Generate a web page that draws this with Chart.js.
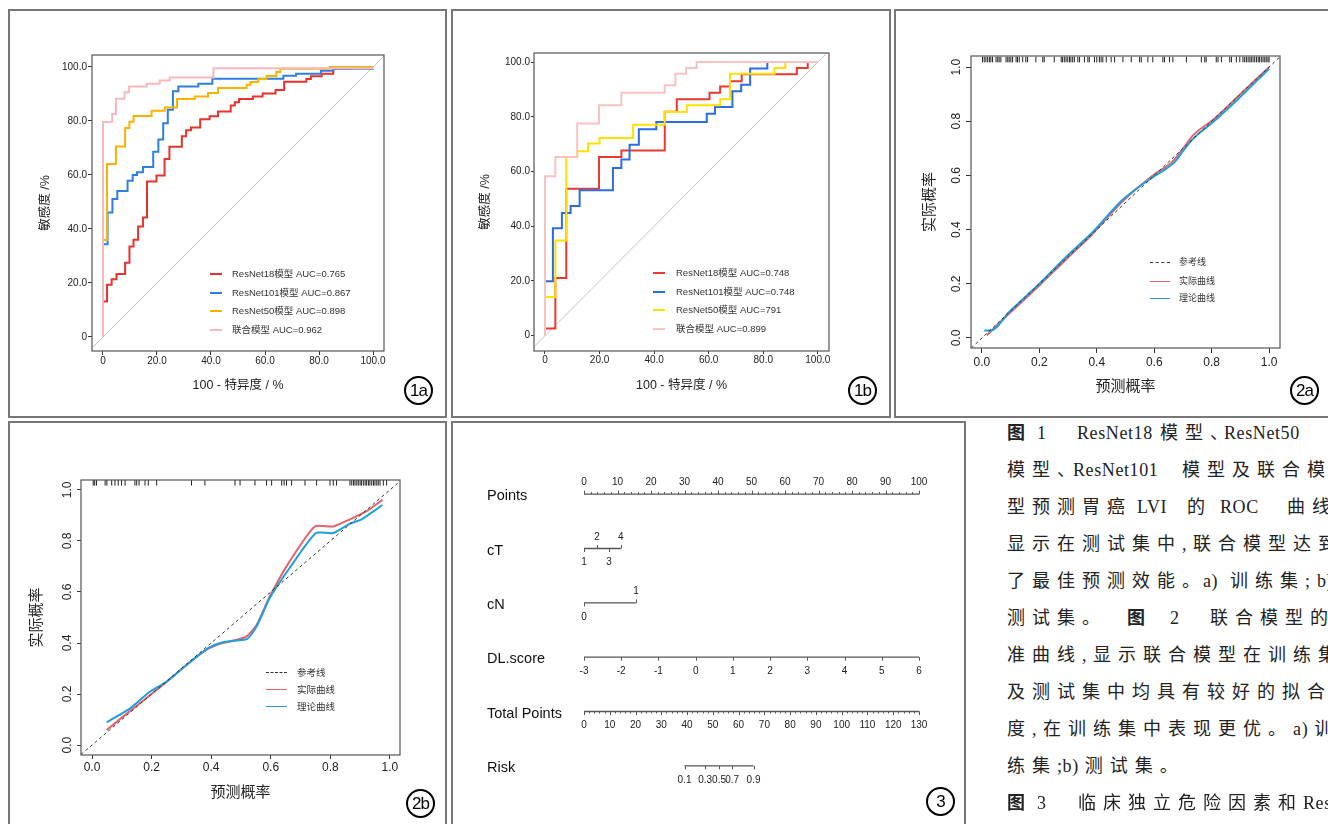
<!DOCTYPE html>
<html>
<head>
<meta charset="utf-8">
<script src="https://cdn.jsdelivr.net/npm/chart.js@4.4.1/dist/chart.umd.min.js"></script>
<style>
  body { margin: 0; width: 1328px; height: 824px; overflow: hidden; background: #fff; position: relative; }
  .panel { position: absolute; border: 2px solid #777; box-sizing: border-box; }
  canvas { position: absolute; }
  .circ { position: absolute; width: 29px; height: 29px; border: 2px solid #000; border-radius: 50%; box-sizing: border-box;
          font: 17px "Liberation Sans", sans-serif; text-align: center; line-height: 25px; letter-spacing: -1px; color: #000; }
  .lg-line { position: absolute; height: 0; }
  .lg-text { position: absolute; white-space: nowrap; color: #333; font-family: "Liberation Sans", "Noto Sans CJK SC", sans-serif; line-height: 1.2; }
  .cap { position: absolute; white-space: pre; color: #222; font-size: 18px; line-height: 24px; }
  .cap.cjk { font-family: "Liberation Serif", "Noto Sans CJK SC", serif; letter-spacing: 7px; }
  .cap.lat, .cap .asc { font-family: "Liberation Serif", serif; letter-spacing: 0.6px; }
  .cap .asc { margin-right: 6px; }
  .cap b { font-weight: 700; }
</style>
</head>
<body>
<div class="panel" style="left:8px;top:9px;width:439px;height:409px"></div>
<div class="panel" style="left:451px;top:9px;width:440px;height:409px"></div>
<div class="panel" style="left:894px;top:9px;width:460px;height:409px"></div>
<div class="panel" style="left:8px;top:421px;width:439px;height:420px"></div>
<div class="panel" style="left:451px;top:421px;width:515px;height:420px"></div>

<canvas id="roc1a" width="434" height="402" style="left:10px;top:12px"></canvas>
<canvas id="roc1b" width="435" height="402" style="left:453px;top:12px"></canvas>
<canvas id="cal2a" width="431" height="402" style="left:897px;top:12px"></canvas>
<canvas id="cal2b" width="434" height="400" style="left:10px;top:424px"></canvas>
<canvas id="nomo3" width="510" height="400" style="left:453px;top:424px"></canvas>

<div class="circ" style="left:404px;top:376px">1a</div>
<div class="circ" style="left:848px;top:376px">1b</div>
<div class="circ" style="left:1290px;top:376px">2a</div>
<div class="circ" style="left:406px;top:789px">2b</div>
<div class="circ" style="left:926px;top:787px">3</div>

<div id="legends"></div>
<div id="caption"></div>

<script>
// ---- axis ticks ----
const rocTicks = [0, 20, 40, 60, 80, 100];
const rocTickLabels = ['0', '20.0', '40.0', '60.0', '80.0', '100.0'];
const calTicks = [0, 0.2, 0.4, 0.6, 0.8, 1.0];
const calTickLabels = ['0.0', '0.2', '0.4', '0.6', '0.8', '1.0'];

// ---- 图1a 训练集 ROC (100-特异度, 敏感度) ----
const train18Fpr  = [0, 0, 1.5, 3.2, 5.0, 8.2, 9.8, 11.3, 13.0, 14.8, 16.3, 19.8, 22.8, 24.6, 29.2, 30.8, 32.6, 36.0, 39.5, 42.6, 47.3, 48.8, 50.4, 55.5, 59.1, 63.9, 67.1, 75.3, 77.0, 81.0, 85.3, 92.0, 100];
const train18Tpr  = [0, 13.1, 19.3, 21.4, 23.3, 27.5, 33.5, 36.0, 40.9, 44.2, 57.6, 59.8, 65.9, 70.4, 74.3, 76.5, 77.6, 80.6, 81.7, 83.5, 85.7, 86.9, 88.1, 89.0, 90.1, 91.4, 94.5, 95.5, 96.5, 97.5, 99.3, 100, 100];
const train101Fpr = [0, 0, 1.7, 3.5, 5.3, 9.1, 11.0, 12.6, 14.8, 18.6, 20.5, 22.3, 24.0, 25.9, 27.9, 35.3, 40.5, 66.8, 71.5, 80.7, 85.3, 100];
const train101Tpr = [0, 34.3, 46.1, 51.1, 54.0, 57.8, 60.0, 61.0, 62.9, 68.6, 73.1, 79.1, 84.1, 91.0, 92.7, 93.8, 95.6, 96.7, 97.5, 98.6, 99.3, 100];
const train50Fpr  = [0, 0, 1.5, 4.8, 8.2, 9.8, 11.3, 18.0, 22.9, 27.4, 34.0, 38.9, 42.6, 53.2, 54.6, 57.5, 60.6, 64.2, 65.7, 84.0, 100];
const train50Tpr  = [0, 35.9, 64.0, 70.5, 77.4, 79.7, 81.8, 83.8, 85.0, 88.1, 89.0, 90.3, 92.2, 93.4, 94.4, 95.5, 96.6, 98.1, 99.3, 100, 100];
const trainComFpr = [0, 0, 3.4, 4.8, 8.0, 9.6, 16.2, 21.0, 24.7, 40.9, 100];
const trainComTpr = [0, 79.6, 82.6, 88.2, 90.6, 92.7, 93.8, 95.0, 96.1, 99.5, 100];
const trainLegend = ['ResNet18模型 AUC=0.765', 'ResNet101模型 AUC=0.867', 'ResNet50模型 AUC=0.898', '联合模型 AUC=0.962'];

// ---- 图1b 测试集 ROC ----
const test18Fpr  = [0, 0, 3.8, 7.8, 19.8, 28.0, 43.9, 48.3, 60.3, 64.2, 67.8, 72.1, 92.3, 96.3, 100];
const test18Tpr  = [0, 2.6, 21.1, 53.7, 65.3, 67.7, 81.8, 86.4, 88.8, 91.1, 93.0, 95.5, 97.8, 100, 100];
const test101Fpr = [0, 0, 2.9, 6.2, 9.4, 12.7, 24.9, 28.0, 31.0, 34.4, 40.8, 59.3, 62.3, 68.7, 71.9, 75.2, 81.5, 100];
const test101Tpr = [0, 19.9, 39.3, 44.8, 47.4, 53.1, 61.3, 64.4, 69.8, 75.4, 78.1, 81.1, 83.6, 89.3, 91.7, 97.6, 100, 100];
const test50Fpr  = [0, 0, 3.8, 7.8, 11.8, 15.8, 20.0, 32.3, 43.9, 52.0, 64.2, 67.8, 84.1, 88.1, 100];
const test50Tpr  = [0, 14.1, 34.8, 65.3, 67.4, 70.2, 72.2, 77.1, 81.7, 84.2, 86.4, 95.7, 97.8, 100, 100];
const testComFpr = [0, 0, 3.8, 11.8, 19.8, 28.0, 43.9, 47.8, 51.7, 55.6, 100];
const testComTpr = [0, 58.3, 65.3, 77.5, 84.2, 88.8, 91.5, 95.7, 97.8, 100, 100];
const testLegend = ['ResNet18模型 AUC=0.748', 'ResNet101模型 AUC=0.748', 'ResNet50模型 AUC=791', '联合模型 AUC=0.899'];

const trainColors = ['#e8322d', '#2f7fe0', '#f5b400', '#f8b8bd'];
const testColors  = ['#e83a30', '#2b6ce6', '#ffe100', '#f9c2c2'];

// ---- 图2 校准曲线 ----
const trainActualX = [0.017, 0.095, 0.2, 0.293, 0.386, 0.49, 0.595, 0.665, 0.7, 0.735, 0.805, 0.898, 1.0];
const trainActualY = [0.01, 0.09, 0.194, 0.29, 0.385, 0.505, 0.6, 0.653, 0.699, 0.748, 0.806, 0.898, 1.0];
const trainTheoryX = [0.008, 0.031, 0.095, 0.2, 0.293, 0.386, 0.49, 0.595, 0.642, 0.671, 0.7, 0.735, 0.805, 0.898, 1.0];
const trainTheoryY = [0.028, 0.028, 0.096, 0.2, 0.299, 0.391, 0.51, 0.594, 0.625, 0.649, 0.69, 0.735, 0.797, 0.888, 0.994];
const trainRug = [0.002, 0.008, 0.014, 0.020, 0.026, 0.031, 0.037, 0.049, 0.055, 0.060, 0.066, 0.084, 0.090, 0.095, 0.101, 0.107, 0.119, 0.124, 0.130, 0.142, 0.153, 0.159, 0.188, 0.212, 0.217, 0.252, 0.276, 0.281, 0.287, 0.293, 0.299, 0.305, 0.310, 0.316, 0.322, 0.334, 0.340, 0.357, 0.369, 0.374, 0.392, 0.400, 0.409, 0.415, 0.421, 0.433, 0.450, 0.462, 0.491, 0.520, 0.549, 0.555, 0.578, 0.595, 0.630, 0.636, 0.653, 0.665, 0.712, 0.764, 0.776, 0.781, 0.816, 0.822, 0.834, 0.863, 0.869, 0.886, 0.898, 0.909, 0.915, 0.921, 0.927, 0.933, 0.938, 0.944, 0.950, 0.956, 0.962, 0.967, 0.973, 0.979, 0.985, 0.990, 0.996, 1.0];

const testActualX = [0.049, 0.139, 0.239, 0.318, 0.385, 0.43, 0.474, 0.519, 0.553, 0.597, 0.664, 0.748, 0.81, 0.866, 0.922, 0.975];
const testActualY = [0.059, 0.144, 0.236, 0.315, 0.374, 0.397, 0.409, 0.426, 0.472, 0.583, 0.721, 0.857, 0.857, 0.885, 0.917, 0.961];
const testTheoryX = [0.049, 0.128, 0.195, 0.251, 0.318, 0.39, 0.43, 0.474, 0.521, 0.553, 0.597, 0.664, 0.752, 0.81, 0.866, 0.905, 0.975];
const testTheoryY = [0.089, 0.144, 0.21, 0.249, 0.315, 0.38, 0.4, 0.409, 0.416, 0.466, 0.577, 0.695, 0.831, 0.831, 0.868, 0.885, 0.941];
const testRug = [0.004, 0.009, 0.015, 0.044, 0.050, 0.066, 0.077, 0.088, 0.099, 0.111, 0.144, 0.150, 0.158, 0.178, 0.189, 0.217, 0.334, 0.379, 0.480, 0.497, 0.547, 0.586, 0.603, 0.637, 0.645, 0.653, 0.670, 0.715, 0.754, 0.799, 0.810, 0.821, 0.866, 0.872, 0.878, 0.883, 0.889, 0.894, 0.900, 0.905, 0.911, 0.917, 0.922, 0.928, 0.933, 0.939, 0.945, 0.950, 0.956, 0.961, 0.967, 0.978, 0.989];
const calLegend = ['参考线', '实际曲线', '理论曲线'];
const calRed = '#e3636b', calBlue = '#1f9fdc';

// ---- 图3 列线图 ----
const nomoRows = ['Points', 'cT', 'cN', 'DL.score', 'Total Points', 'Risk'];
const pointsTicks = [0, 10, 20, 30, 40, 50, 60, 70, 80, 90, 100];
const pointsMinorStep = 2;
const cTLabels = ['1', '2', '3', '4'];
const cTPoints = [0, 3.9, 7.5, 11.0];
const cTSide = [1, -1, 1, -1];
const cNLabels = ['0', '1'];
const cNPoints = [0, 15.5];
const cNSide = [1, -1];
const dlTicks = [-3, -2, -1, 0, 1, 2, 3, 4, 5, 6];
const totalTicks = [0, 10, 20, 30, 40, 50, 60, 70, 80, 90, 100, 110, 120, 130];
const totalMinorStep = 2;
const riskLabels = ['0.1', '0.3', '0.5', '0.7', '0.9'];
const riskTotal = [39.0, 47.0, 52.4, 57.5, 65.8];

// ---- 图注 ----
const captionLines = [
  [[1007, '图', 1], [1037, '1'], [1077, 'ResNet18'], [1160, '模型、'], [1224, 'ResNet50']],
  [[1007, '模型、'], [1073, 'ResNet101'], [1182, '模型及联合模型']],
  [[1007, '型预测胃癌'], [1137, 'LVI'], [1187, '的'], [1220, 'ROC'], [1287, '曲线,']],
  [[1007, '显示在测试集中,联合模型达到']],
  [[1007, '了最佳预测效能。'], [1203, 'a)'], [1230, '训练集;'], [1317, 'b)']],
  [[1007, '测试集。'], [1127, '图', 1], [1170, '2'], [1210, '联合模型的校准']],
  [[1007, '准曲线,显示联合模型在训练集']],
  [[1007, '及测试集中均具有较好的拟合']],
  [[1007, '度,在训练集中表现更优。a)训']],
  [[1007, '练集;b)测试集。']],
  [[1007, '图', 1], [1037, '3'], [1078, '临床独立危险因素和'], [1303, 'ResNet']]
];

Chart.defaults.font.family = '"Liberation Sans", "Noto Sans CJK SC", sans-serif';
const pts = (xs, ys) => xs.map((x, i) => ({ x, y: ys[i] }));

const framePlugin = {
  id: 'frame',
  afterDatasetsDraw(chart) {
    const { ctx, chartArea: a } = chart;
    ctx.save();
    ctx.strokeStyle = '#555';
    ctx.lineWidth = 1.2;
    ctx.strokeRect(a.left, a.top, a.right - a.left, a.bottom - a.top);
    ctx.restore();
  }
};

function axis(o) {
  return {
    type: 'linear', min: o.min, max: o.max,
    afterBuildTicks: s => { s.ticks = o.ticks.map(v => ({ value: v })); },
    afterFit: s => { if (o.w != null) s.width = o.w; if (o.h != null) s.height = o.h; },
    grid: { drawOnChartArea: false, drawTicks: true, tickLength: o.tl, tickColor: '#333', tickWidth: 1 },
    border: { display: false },
    ticks: {
      autoSkip: false, minRotation: o.rot || 0, maxRotation: o.rot || 0, padding: o.pad,
      crossAlign: o.cross || 'near', color: '#222', font: { size: o.fs },
      callback: (v, i) => o.labels[i]
    },
    title: { display: true, text: o.title, color: '#222', font: { size: o.tfs }, padding: o.tpad }
  };
}

function makeChart(id, datasets, xo, yo, pad) {
  return new Chart(document.getElementById(id), {
    type: 'scatter',
    data: { datasets },
    options: {
      responsive: false, animation: false, events: [],
      layout: { padding: pad },
      plugins: { legend: { display: false }, tooltip: { enabled: false } },
      scales: { x: axis(xo), y: axis(yo) }
    },
    plugins: [framePlugin]
  });
}

function rocSets(series, colors, lo, hi) {
  const sets = series.map((s, i) => ({
    data: pts(s[0], s[1]), showLine: true, stepped: 'before', borderColor: colors[i],
    borderWidth: 2, pointRadius: 0, order: 3 - i
  }));
  sets.push({ data: [{ x: lo, y: lo }, { x: hi, y: hi }], showLine: true, borderColor: '#c4c4c4',
    borderWidth: 1, pointRadius: 0, order: 4 });
  return sets;
}

// 1a
makeChart('roc1a',
  rocSets([[train18Fpr, train18Tpr], [train101Fpr, train101Tpr], [train50Fpr, train50Tpr], [trainComFpr, trainComTpr]], trainColors, -4.07, 104.07),
  { min: -4.07, max: 104.07, ticks: rocTicks, labels: rocTickLabels, h: 63, tl: 4, pad: 0, fs: 10,
    title: '100 - 特异度 / %', tfs: 12.5, tpad: { top: 0, bottom: 20.5 } },
  { min: -5.2, max: 104.4, ticks: rocTicks, labels: rocTickLabels, w: 82, tl: 4, pad: 1, fs: 10,
    title: '敏感度 /%', tfs: 12.5, tpad: { top: 28.5, bottom: 0 } },
  { left: 0, top: 43, right: 60, bottom: 0 });

// 1b
makeChart('roc1b',
  rocSets([[test18Fpr, test18Tpr], [test101Fpr, test101Tpr], [test50Fpr, test50Tpr], [testComFpr, testComTpr]], testColors, -4.03, 103.3),
  { min: -4.03, max: 104.1, ticks: rocTicks, labels: rocTickLabels, h: 63, tl: 3, pad: 0, fs: 10,
    title: '100 - 特异度 / %', tfs: 12.5, tpad: { top: 0, bottom: 20.5 } },
  { min: -5.6, max: 103.3, ticks: rocTicks, labels: rocTickLabels, w: 81, tl: 3, pad: 1, fs: 10,
    title: '敏感度 /%', tfs: 12.5, tpad: { top: 25.5, bottom: 0 } },
  { left: 0, top: 41, right: 59, bottom: 0 });

function calSets(ax, ay, tx, ty, rug, lo, hi, smooth) {
  const line = (xs, ys, c, o) => ({ data: pts(xs, ys), showLine: true, borderColor: c, borderWidth: 2,
    pointRadius: 0, order: o, ...(smooth ? { cubicInterpolationMode: 'monotone' } : { tension: 0.2 }) });
  return [
    line(tx, ty, calBlue, 1),
    line(ax, ay, calRed, 2),
    { data: [{ x: lo, y: lo }, { x: hi, y: hi }], showLine: true, borderColor: '#333', borderWidth: 1,
      borderDash: [3, 3], pointRadius: 0, order: 0 },
    { data: rug.map(v => ({ x: v, y: 1.028 })), pointStyle: 'line', rotation: 90, pointRadius: 2.8,
      borderColor: '#222', borderWidth: 1, order: 3 }
  ];
}

// 2a
makeChart('cal2a',
  calSets(trainActualX, trainActualY, trainTheoryX, trainTheoryY, trainRug, -0.037, 1.038, true),
  { min: -0.038, max: 1.038, ticks: calTicks, labels: calTickLabels, h: 66, tl: 5, pad: 2.5, fs: 12,
    title: '预测概率', tfs: 15, tpad: { top: 0, bottom: 18 } },
  { min: -0.037, max: 1.041, ticks: calTicks, labels: calTickLabels, w: 74, tl: 5, pad: 1, fs: 12, rot: 90, cross: 'center',
    title: '实际概率', tfs: 15, tpad: { top: 24, bottom: 0 } },
  { left: 0, top: 44, right: 48, bottom: 0 });

// 2b
makeChart('cal2b',
  calSets(testActualX, testActualY, testTheoryX, testTheoryY, testRug, -0.037, 1.034, false),
  { min: -0.037, max: 1.034, ticks: calTicks, labels: calTickLabels, h: 69, tl: 4, pad: 1, fs: 12,
    title: '预测概率', tfs: 15, tpad: { top: 0, bottom: 22 } },
  { min: -0.039, max: 1.039, ticks: calTicks, labels: calTickLabels, w: 71, tl: 4, pad: 1, fs: 12, rot: 90, cross: 'center',
    title: '实际概率', tfs: 15, tpad: { top: 18, bottom: 0 } },
  { left: 0, top: 56, right: 44, bottom: 0 });

// 3 nomogram
const dlToPts = v => (v - dlTicks[0]) / (dlTicks[dlTicks.length - 1] - dlTicks[0]) * 100;
const totToPts = t => t / totalTicks[totalTicks.length - 1] * 100;

const nomoPlugin = {
  id: 'nomo',
  afterDatasetsDraw(chart) {
    const { ctx, scales: { x, y } } = chart;
    ctx.save();
    ctx.strokeStyle = '#555';
    ctx.lineWidth = 1;
    ctx.fillStyle = '#222';
    ctx.font = '10px "Liberation Sans"';
    ctx.textAlign = 'center';
    ctx.textBaseline = 'middle';
    const tick = (p, row, dir, len) => {
      const px = Math.round(x.getPixelForValue(p)) + 0.5, py = y.getPixelForValue(row);
      ctx.beginPath(); ctx.moveTo(px, py); ctx.lineTo(px, py + dir * len); ctx.stroke();
    };
    const label = (p, row, dir, txt) => {
      ctx.fillText(txt, x.getPixelForValue(p), y.getPixelForValue(row) + (dir < 0 ? -11.5 : 14));
    };
    // Points
    for (let v = 0; v <= 100; v += pointsMinorStep) tick(v, 0, -1, 2);
    pointsTicks.forEach(v => { tick(v, 0, -1, 3.5); label(v, 0, -1, String(v)); });
    // cT
    cTPoints.forEach((p, i) => { tick(p, 1, cTSide[i], 3.5); label(p, 1, cTSide[i], cTLabels[i]); });
    // cN
    cNPoints.forEach((p, i) => { tick(p, 2, cNSide[i], 3.5); label(p, 2, cNSide[i], cNLabels[i]); });
    // DL.score
    dlTicks.forEach(v => { tick(dlToPts(v), 3, 1, 3.5); label(dlToPts(v), 3, 1, String(v)); });
    // Total Points
    for (let t = 0; t <= 130; t += totalMinorStep) tick(totToPts(t), 4, 1, 2);
    totalTicks.forEach(t => { tick(totToPts(t), 4, 1, 3.5); label(totToPts(t), 4, 1, String(t)); });
    // Risk
    riskTotal.forEach((t, i) => { tick(totToPts(t), 5, 1, 3.5); label(totToPts(t), 5, 1, riskLabels[i]); });
    // row names
    ctx.textAlign = 'left';
    ctx.fillStyle = '#111';
    ctx.font = '14.5px "Liberation Sans"';
    nomoRows.forEach((name, r) => ctx.fillText(name, 34, y.getPixelForValue(r) + 2));
    ctx.restore();
  }
};

const nomoLine = (x0, x1, row) => ({ data: [{ x: x0, y: row }, { x: x1, y: row }], showLine: true,
  borderColor: '#555', borderWidth: 1.3, pointRadius: 0 });
new Chart(document.getElementById('nomo3'), {
  type: 'scatter',
  data: { datasets: [
    nomoLine(0, 100, 0),
    nomoLine(cTPoints[0], cTPoints[cTPoints.length - 1], 1),
    nomoLine(cNPoints[0], cNPoints[cNPoints.length - 1], 2),
    nomoLine(dlToPts(dlTicks[0]), dlToPts(dlTicks[dlTicks.length - 1]), 3),
    nomoLine(0, 100, 4),
    nomoLine(totToPts(riskTotal[0]), totToPts(riskTotal[riskTotal.length - 1]), 5)
  ] },
  options: {
    responsive: false, animation: false, events: [],
    layout: { padding: { left: 131, right: 44, top: 43, bottom: 31 } },
    plugins: { legend: { display: false }, tooltip: { enabled: false } },
    scales: {
      x: { type: 'linear', display: false, min: 0, max: 100 },
      y: { type: 'linear', display: false, min: -0.5, max: 5.5, reverse: true }
    }
  },
  plugins: [nomoPlugin]
});

// ---- legends (HTML) ----
const legendBox = document.getElementById('legends');
function legend(labels, colors, dashes, x0, x1, xt, ys, fs, lw) {
  labels.forEach((txt, i) => {
    const ln = document.createElement('div');
    ln.className = 'lg-line';
    ln.style.cssText = `left:${x0}px;width:${x1 - x0}px;top:${ys[i] - lw / 2}px;border-top:${lw}px ${dashes[i] ? 'dashed' : 'solid'} ${colors[i]}`;
    legendBox.appendChild(ln);
    const t = document.createElement('div');
    t.className = 'lg-text';
    t.style.cssText = `left:${xt}px;top:${ys[i] - fs * 0.62}px;font-size:${fs}px`;
    t.textContent = txt;
    legendBox.appendChild(t);
  });
}
legend(trainLegend, trainColors, [0, 0, 0, 0], 210, 222, 232, [274, 293, 311, 330], 9.5, 2);
legend(testLegend, testColors, [0, 0, 0, 0], 653, 665, 676, [273, 292, 310, 329], 9.5, 2);
legend(calLegend, ['#333', calRed, calBlue], [1, 0, 0], 1150, 1170, 1179, [263, 282, 299], 9, 1.5);
legend(calLegend, ['#333', calRed, calBlue], [1, 0, 0], 266, 287, 297, [673, 690, 707], 9.5, 1.5);

// ---- caption (HTML) ----
const capBox = document.getElementById('caption');
captionLines.forEach((segs, li) => {
  const cy = 433 + 37 * li;
  segs.forEach(([x, txt, bold]) => {
    const s = document.createElement('div');
    const ascii = /^[\x20-\x7e]+$/.test(txt);
    s.className = 'cap ' + (ascii ? 'lat' : 'cjk');
    s.style.left = x + 'px';
    s.style.top = (cy - 12) + 'px';
    if (bold) {
      const b = document.createElement('b'); b.textContent = txt; s.appendChild(b);
    } else if (ascii) {
      s.textContent = txt;
    } else {
      // keep ASCII runs inside CJK text tight
      txt.split(/([\x21-\x7e]+)/).forEach((part, k) => {
        if (!part) return;
        if (k % 2) { const a = document.createElement('span'); a.className = 'asc'; a.textContent = part; s.appendChild(a); }
        else s.appendChild(document.createTextNode(part));
      });
    }
    capBox.appendChild(s);
  });
});
</script>
</body>
</html>
